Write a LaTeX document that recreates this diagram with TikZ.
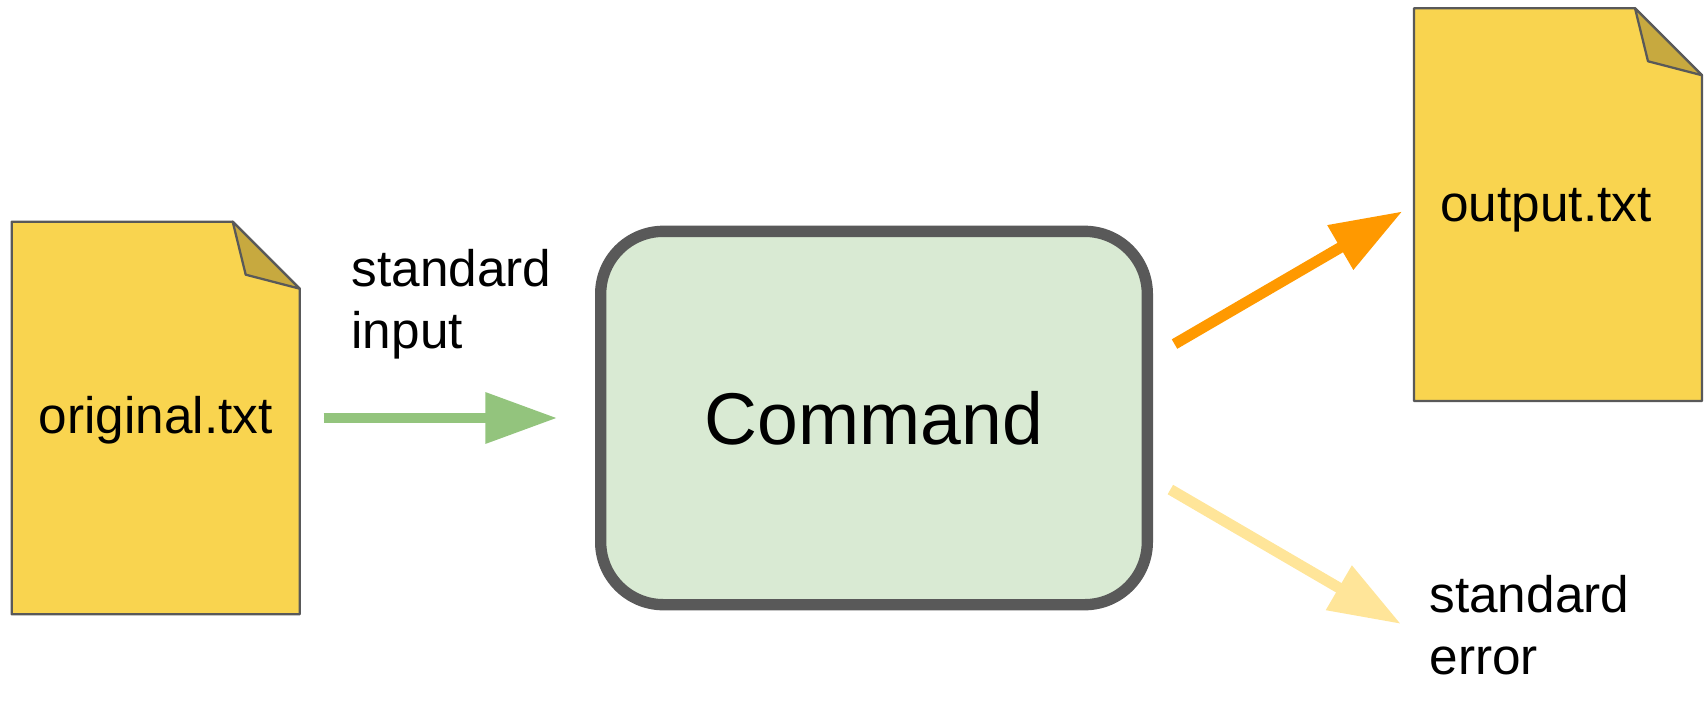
\documentclass[tikz,border=0pt]{standalone}
\usepackage{fontspec}
\setmainfont{Liberation Sans}
\usetikzlibrary{arrows.meta,calc}

\definecolor{docyellow}{HTML}{F9D44F}
\definecolor{docfold}{HTML}{C7A93F}
\definecolor{edgegrey}{HTML}{595959}
\definecolor{boxgreen}{HTML}{D9EAD3}
\definecolor{ingreen}{HTML}{93C47D}
\definecolor{outorange}{HTML}{FF9900}
\definecolor{errorange}{HTML}{FFE599}

\newcommand{\docsheet}[1]{
\draw[docedge, fill=docyellow] (#1.north west) -- ($(#1.north east)+(-67,0)$) -- ($(#1.north east)+(0,67)$) -- (#1.south east) -- (#1.south west) -- cycle;
\draw[docedge, fill=docfold] ($(#1.north east)+(-67,0)$) -- ($(#1.north east)+(-54,53)$) -- ($(#1.north east)+(0,67)$) -- cycle;
}

\begin{document}
\begin{tikzpicture}[
x=0.75pt, y=-0.75pt,
docedge/.style={draw=edgegrey, line width=1.7pt, line join=round},
docnode/.style={rectangle, minimum width=216pt, minimum height=294.5pt, inner sep=0pt, outer sep=0pt},
textnode/.style={inner sep=0pt, outer sep=0pt, align=left, font=\fontsize{38.5}{46.5}\selectfont},
commandnode/.style={rectangle, draw=edgegrey, fill=boxgreen, line width=8.5pt, rounded corners=47pt, minimum width=410pt, minimum height=280pt, outer sep=0pt, font=\fontsize{55}{60}\selectfont},
flow/.style={line width=#1, -{Triangle[length=54pt, width=36.5pt]}},
]
\useasboundingbox (0,0) rectangle (1707,704);

%Nodes
\node[docnode]     (originaldoc)  at (155.7,418)  {};
\node[docnode]     (outputdoc)    at (1558,204.6) {};
\docsheet{originaldoc}
\docsheet{outputdoc}
\node[textnode]    (originallabel) at (155.7,420) {original.txt};
\node[textnode]    (outputlabel)   at (1546,210)  {output.txt};
\node[commandnode] (command)       at (874,418)   {Command};
\node[textnode, anchor=west] (inputlabel) at (351.6,304) {standard\\input};
\node[textnode, anchor=west] (errorlabel) at (1429.5,625) {standard\\error};
\coordinate (errortip) at (1401,624);

%Lines
\draw[flow=8.2pt, draw=ingreen, fill=ingreen, shorten <=18pt, shorten >=32.5pt] (originaldoc.east) -- (command.west);
\draw[flow=8.2pt, draw=outorange, fill=outorange, shorten <=23.6pt, shorten >=10pt] (command.12.3) -- (outputdoc.west);
\draw[flow=8.2pt, draw=errorange, fill=errorange, shorten <=20pt] (command.-12.7) -- (errortip);
\end{tikzpicture}
\end{document}
